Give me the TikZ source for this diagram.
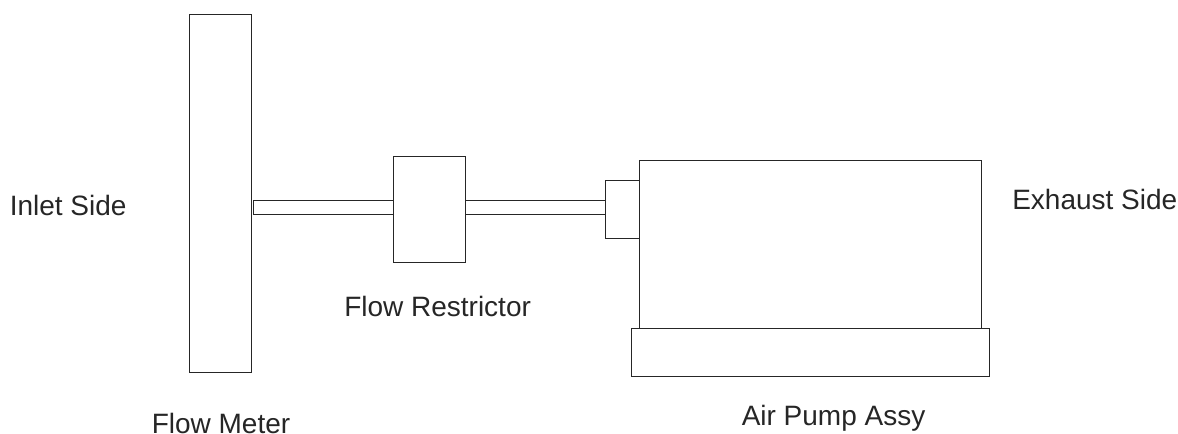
\documentclass[tikz,border=0pt]{standalone}
\usepackage{fontspec}
\setmainfont{Liberation Sans}
\tikzset{part/.style={draw=black!85,line width=0.55pt,fill=white,minimum width=0pt,minimum height=0pt,inner sep=0pt,outer sep=0pt},
lbl/.style={font=\fontsize{21pt}{24pt}\selectfont,text=black!85,inner sep=0pt}}
\newcommand{\pbox}[5]{\node[part,anchor=north west,minimum width=#4*0.75pt,minimum height=#5*0.75pt] (#1) at (#2*0.75pt,-#3*0.75pt) {};}
\begin{document}
\begin{tikzpicture}[x=1pt,y=1pt]
\useasboundingbox (0,0) rectangle (883.5,-325.5);
\pbox{meter}{189}{14}{62}{358}
\pbox{pipeA}{253}{200}{140}{14}
\pbox{restrictor}{393}{156}{72}{106}
\pbox{pipeB}{465}{200}{140}{14}
\pbox{flange}{605}{180}{34}{58}
\pbox{pump}{639}{160}{342}{168}
\pbox{base}{631}{328}{358}{48}
\node[lbl,anchor=base west] (inlet) at (9.5*0.75,-216*0.75) {Inlet Side};
\node[lbl,anchor=base west] (exhaust) at (1012*0.75,-210*0.75) {Exhaust Side};
\node[lbl,anchor=base west] (restrictorlabel) at (344*0.75,-317*0.75) {Flow Restrictor};
\node[lbl,anchor=base west] (meterlabel) at (151.5*0.75,-433.5*0.75) {Flow Meter};
\node[lbl,anchor=base west] (pumplabel) at (741.5*0.75,-426*0.75) {Air Pump Assy};
\end{tikzpicture}
\end{document}
